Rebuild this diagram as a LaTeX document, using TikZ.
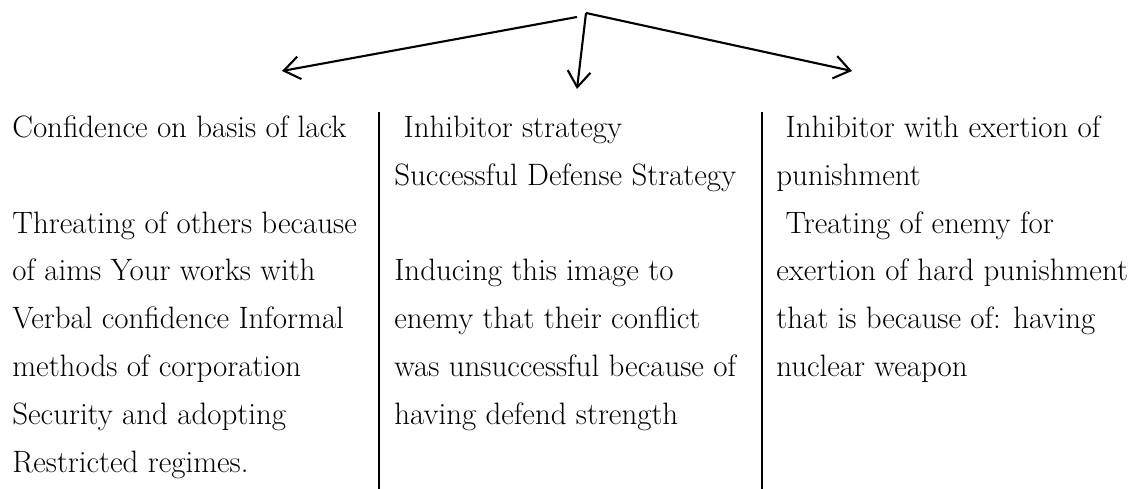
\documentclass[tikz,border=0pt]{standalone}
\usetikzlibrary{arrows.meta}
\tikzset{
  col/.style={anchor=north west, align=left, inner sep=0pt, font=\fontsize{17.6}{27.2}\selectfont},
  branch/.style={line width=1.2pt, -{Straight Barb[length=9pt,width=13pt]}},
  divider/.style={line width=1.2pt}
}
\begin{document}
\begin{tikzpicture}[x=0.02cm,y=-0.02cm]
  \useasboundingbox (0,0) rectangle (1137,489);
  \coordinate (top) at (586,13);
  \coordinate (split) at (577,17);
  \coordinate (L) at (282,71);
  \coordinate (M) at (577,89);
  \coordinate (R) at (852,71);

  \node[col] (lack) at (12,115.5) {Confidence on basis of lack\\ ~\\
    Threating of others because\\ of aims Your works with\\
    Verbal confidence Informal\\ methods of corporation\\
    Security and adopting\\ Restricted regimes.};
  \node[col] (defense) at (394,115.5) {\ Inhibitor strategy\\
    Successful Defense Strategy\\ ~\\
    Inducing this image to\\ enemy that their conflict\\
    was unsuccessful because of\\ having defend strength};
  \node[col] (punish) at (776,115.5) {\ Inhibitor with exertion of\\
    punishment\\ \ Treating of enemy for\\
    exertion of hard punishment\\ that is because of: having\\
    nuclear weapon};

  \draw[divider] (379,112) -- (379,489);
  \draw[divider] (762,112) -- (762,489);

  \draw[branch] (split) -- (L);
  \draw[branch] (top) -- (M);
  \draw[branch] (top) -- (R);
\end{tikzpicture}
\end{document}
